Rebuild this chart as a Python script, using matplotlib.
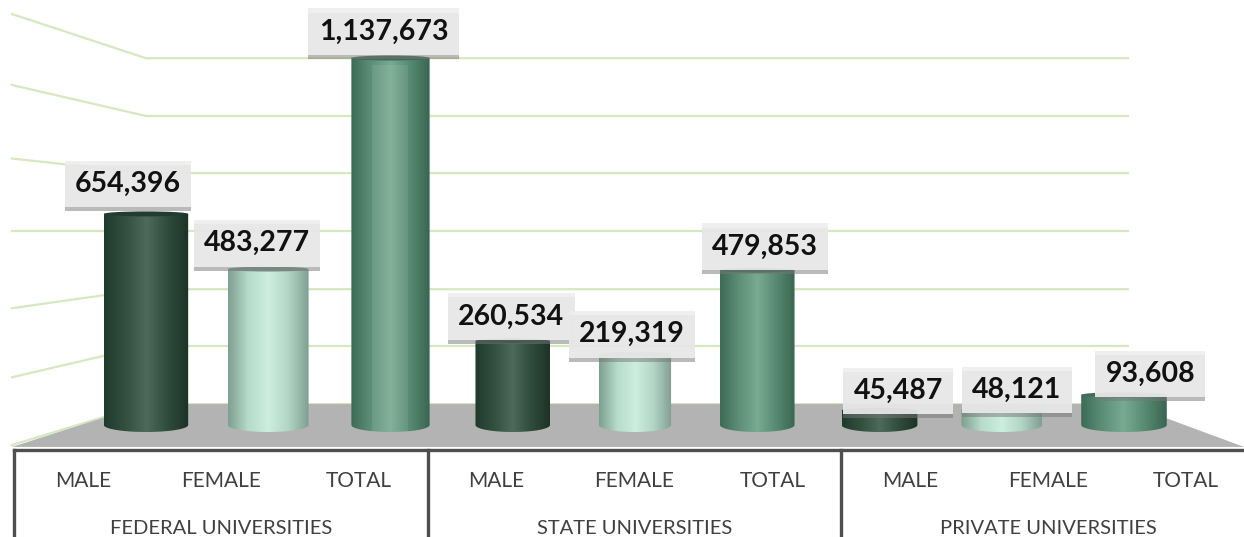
import numpy as np
import matplotlib
matplotlib.use("Agg")
import matplotlib.pyplot as plt
import matplotlib.patheffects as pe
from matplotlib.colors import LinearSegmentedColormap
from matplotlib.patches import Ellipse, Polygon, Rectangle

plt.rcParams["font.family"] = ["Lato", "DejaVu Sans"]

categories = ["MALE", "FEMALE", "TOTAL"] * 3
groups = ["FEDERAL UNIVERSITIES", "STATE UNIVERSITIES", "PRIVATE UNIVERSITIES"]
values = [654396, 483277, 1137673, 260534, 219319, 479853, 45487, 48121, 93608]
value_labels = ["654,396", "483,277", "1,137,673", "260,534", "219,319", "479,853", "45,487", "48,121", "93,608"]

# levels of the back wall lines, floor is the last one
grid_levels = [1137000, 958000, 781000, 601000, 421000, 245000, 65000]
wall_levels = [1274000, 1054000, 826000, 601000, 362000, 148000, -62000]

# drawing style
bar_widths = [0.69, 0.66, 0.64, 0.61, 0.59, 0.61, 0.62, 0.66, 0.70]
label_dy = [21.6, 18.6, 19, 17.6, 14.4, 17, 14, 14, 15]
label_dx = [-13, -8, -5, -1, -2, 5.6, 13.4, 11, 19]
shades = {
    "MALE": ["#1e3a2d", "#33503f", "#4d6a5a", "#2f4c3c", "#1c3326"],
    "FEMALE": ["#7e9f92", "#b7dccb", "#cdeee0", "#b3d5c6", "#7f9f93"],
    "TOTAL": ["#3d6b56", "#5d8f77", "#79ab92", "#578a71", "#3a6651"],
}
shade_cols = ["#223d30", "#7d9c8f", "#3f6b57"]
grid_col = "#d6e8c2"
floor_col = "#b3b3b3"
line_col = "#4f4f4f"

PX_X = 122.25  # px per category
PX_Y = 1 / 3100  # px per value


fig = plt.figure(figsize=(12.44, 5.37), dpi=100)
ax = fig.add_axes([0, 87 / 537, 1, 450 / 537])
x_min, x_max = -146 / PX_X, (1244 - 146) / PX_X
y_min, y_max = -25 / PX_Y, 425 / PX_Y

# back wall and floor
x_wall = -134 / PX_X
x_back = (1128 - 146) / PX_X
for g, w in zip(grid_levels, wall_levels):
    ax.plot([x_wall, 0, x_back], [w, g, g], color=grid_col, lw=1.6, zorder=1)
ax.add_patch(Polygon([[x_wall, -68000], [0, grid_levels[-1]], [x_back, grid_levels[-1]], [x_max, -68000]],
                     facecolor=floor_col, edgecolor="none", zorder=2))

# cylinders
low = 7 / PX_Y
cap = 2.5 / PX_Y
t = np.linspace(np.pi, 2 * np.pi, 40)
for i, (cat, val, w) in enumerate(zip(categories, values, bar_widths)):
    cmap = LinearSegmentedColormap.from_list(cat, shades[cat])
    outline = np.vstack([
        np.column_stack([i + w / 2 * np.cos(t), low * np.sin(t)]),
        [[i + w / 2, val], [i - w / 2, val]],
    ])
    clip = Polygon(outline, transform=ax.transData, facecolor="none", edgecolor="none")
    ax.add_patch(clip)
    im = ax.imshow(np.linspace(0, 1, 128).reshape(1, -1), cmap=cmap, aspect="auto",
                   extent=[i - w / 2, i + w / 2, -low, val], zorder=3)
    im.set_clip_path(clip)
    ax.add_patch(Ellipse((i, val), w, 2 * cap, facecolor=shade_cols[i % 3], edgecolor="none", zorder=4))

# seam on the big federal total bar
ax.add_patch(Rectangle((2 - 0.15, -low), 0.29, values[2], facecolor="white", alpha=0.08, edgecolor="none", zorder=4))

# value labels
for i, (val, txt) in enumerate(zip(values, value_labels)):
    a = ax.annotate(txt, (i, val), xytext=(label_dx[i], label_dy[i]), textcoords="offset points",
                    ha="center", va="center", fontsize=20.5, fontweight="bold", color="#111111", zorder=6,
                    bbox=dict(boxstyle="square,pad=0.36", facecolor="#eeeeee", edgecolor="none", alpha=0.9))
    a.get_bbox_patch().set_path_effects([
        pe.SimplePatchShadow(offset=(0, -3), shadow_rgbFace="#777777", alpha=0.5),
        pe.Normal(),
    ])

ax.set_xlim(x_min, x_max)
ax.set_ylim(y_min, y_max)
ax.axis("off")

# category table under the chart
tb = fig.add_axes([0, 0, 1, 90 / 537])
tb.set_xlim(0, 1244)
tb.set_ylim(537, 447)
tb.axis("off")
tb.plot([14, 1244], [450, 450], color=line_col, lw=2.4)
cell = 137.9
for k, g in enumerate(groups):
    left = 14 + k * 3 * cell
    tb.plot([left, left], [450, 537], color=line_col, lw=2.4)
    tb.text(left + 1.5 * cell, 528, g, ha="center", va="center", fontsize=14.5, color="#404040")
for i, cat in enumerate(categories):
    tb.text(14 + (i + 0.5) * cell, 481, cat, ha="center", va="center", fontsize=15, color="#404040")

fig.savefig("out.png", dpi=100)
